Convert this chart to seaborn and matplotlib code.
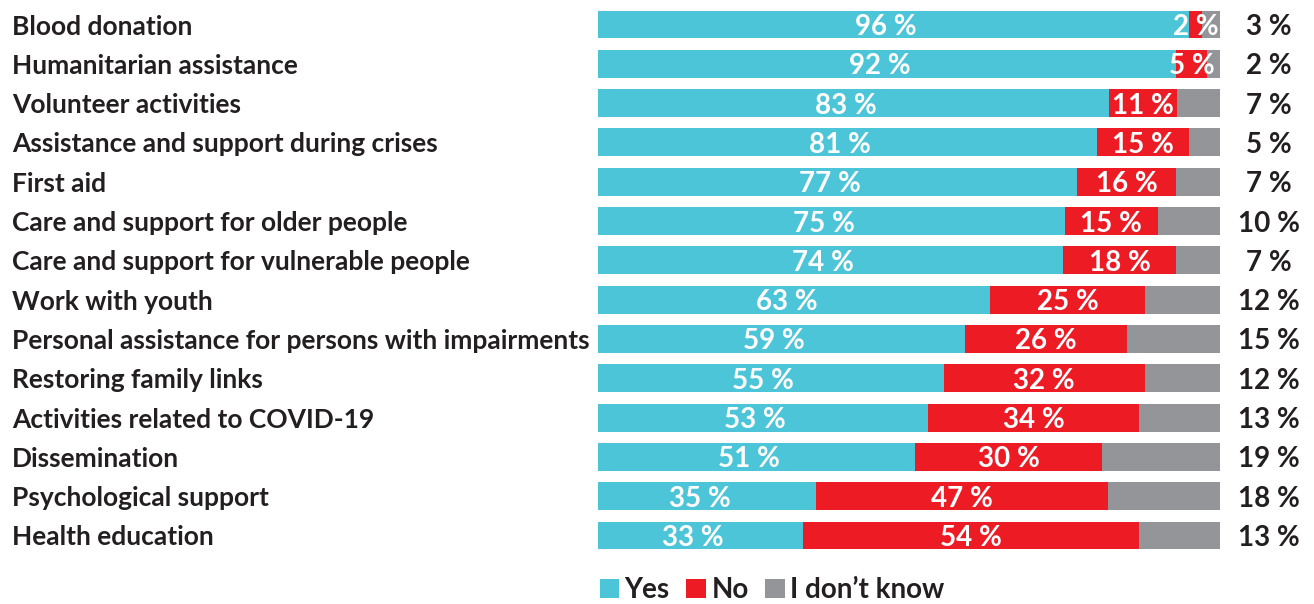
import numpy as np
import pandas as pd
import matplotlib
matplotlib.use("Agg")
import matplotlib.pyplot as plt
import matplotlib.transforms as mtransforms
from matplotlib.patches import Patch
import seaborn as sns

# Survey: "Should the Red Cross be active in ...?"
categories = [
    "Blood donation",
    "Humanitarian assistance",
    "Volunteer activities",
    "Assistance and support during crises",
    "First aid",
    "Care and support for older people",
    "Care and support for vulnerable people",
    "Work with youth",
    "Personal assistance for persons with impairments",
    "Restoring family links",
    "Activities related to COVID-19",
    "Dissemination",
    "Psychological support",
    "Health education",
]
yes = [96, 92, 83, 81, 77, 75, 74, 63, 59, 55, 53, 51, 35, 33]
no = [2, 5, 11, 15, 16, 15, 18, 25, 26, 32, 34, 30, 47, 54]
dont_know = [3, 2, 7, 5, 7, 10, 7, 12, 15, 12, 13, 19, 18, 13]
legend_labels = ["Yes", "No", "I don\u2019t know"]

C_YES = "#4DC5D9"
C_NO = "#ED1C24"
C_DK = "#939598"
C_TEXT = "#231F20"

sns.set_theme(style="white")
plt.rcParams["font.family"] = ["Lato", "DejaVu Sans"]

df = pd.DataFrame({"cat": categories, "yes": yes, "no": no, "dk": dont_know})
total = df["yes"] + df["no"] + df["dk"]
# each row is drawn as shares of its own total so every bar spans the full width
df["s_yes"] = df["yes"] / total * 100
df["s_no"] = df["no"] / total * 100
df["s_dk"] = df["dk"] / total * 100
df["cum_yes"] = df["s_yes"]
df["cum_no"] = df["s_yes"] + df["s_no"]
df["cum_all"] = df["cum_no"] + df["s_dk"]

W, H = 1314, 604
fig = plt.figure(figsize=(W / 100, H / 100), dpi=100)
ax = fig.add_axes([598 / W, 1 - 550 / H, (1220 - 598) / W, 540 / H])

bar_w = 0.71
for col, color in [("cum_all", C_DK), ("cum_no", C_NO), ("cum_yes", C_YES)]:
    sns.barplot(data=df, y="cat", x=col, orient="h", color=color,
                width=bar_w, saturation=1, ax=ax, edgecolor="none")

n = len(categories)
ax.set_xlim(0, 100)
ax.set_ylim(n - 1 + 0.37, -0.37)
ax.axis("off")

fs = 19
fs_in = 20
for i, row in df.iterrows():
    ax.text(row["s_yes"] / 2 - 1.2, i, f"{row['yes']} %", ha="center", va="center_baseline",
            color="white", fontsize=fs_in, fontweight="bold")
    ax.text(row["cum_yes"] + row["s_no"] / 2, i, f"{row['no']} %", ha="center",
            va="center_baseline", color="white", fontsize=fs_in, fontweight="bold")

# category names at the left edge, grey-share values to the right of the bars
tr = mtransforms.blended_transform_factory(fig.transFigure, ax.transData)
for i, row in df.iterrows():
    ax.text(12 / W, i, row["cat"], transform=tr, ha="left", va="center_baseline",
            color=C_TEXT, fontsize=fs, fontweight="bold")
    ax.text(1269 / W, i, f"{row['dk']} %", transform=tr, ha="center",
            va="center_baseline", color=C_TEXT, fontsize=fs_in, fontweight="bold")

handles = [Patch(facecolor=c, edgecolor="none") for c in (C_YES, C_NO, C_DK)]
fig.legend(handles, legend_labels, loc="center", bbox_to_anchor=(772 / W, 1 - 590 / H),
           ncol=3, frameon=False, handlelength=0.7, handleheight=0.7,
           handletextpad=0.2, columnspacing=0.6,
           prop={"size": fs_in, "weight": "bold"}, labelcolor=C_TEXT)

fig.savefig("out.png", dpi=100)
